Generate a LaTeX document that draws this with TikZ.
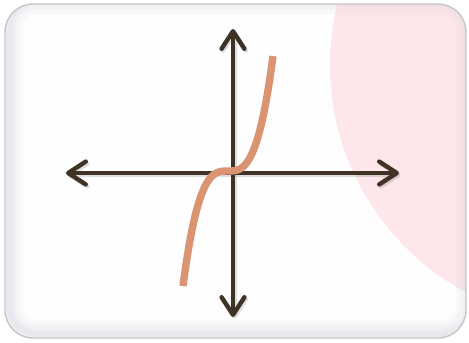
\documentclass[tikz,border=0pt]{standalone}
\usetikzlibrary{arrows.meta}

\definecolor{axisbrown}{HTML}{3E3324}
\definecolor{curvetan}{HTML}{DA9472}
\definecolor{blush}{HTML}{FDE7EA}
\definecolor{framegray}{HTML}{C4C3D0}
\definecolor{paper}{HTML}{FEFEFF}

\begin{document}
\begin{tikzpicture}[
  x=0.02cm,
  y=-0.02cm,
  axis/.style={draw=axisbrown,line width=2.5pt,
    {Straight Barb[length=10pt,width=13pt,round]}-{Straight Barb[length=10pt,width=13pt,round]}},
  axisshadow/.style={axis,draw=black,opacity=0.12},
  curve/.style={draw=curvetan,line width=4.2pt},
  frame/.style={rounded corners=0.56cm}
]

\useasboundingbox (0,0) rectangle (469,342);

% Card with blush circle and inner shadow
\fill[frame,paper] (5,4) rectangle (466,338);
\begin{scope}
  \clip[frame] (5,4) rectangle (466,338);
  \fill[blush] (588,65) circle [radius=258];
  \foreach \w/\o in {28/0.07,20/0.08,12/0.1,6/0.14}
    \draw[frame,framegray,line width=\w*0.02cm,opacity=\o,shift={(4,-4)}]
      (5,4) rectangle (466,338);
\end{scope}
\draw[frame,draw=gray!45,line width=0.8pt] (5,4) rectangle (466,338);

% Axes
\coordinate (xmin) at (66,173);
\coordinate (xmax) at (399,173);
\coordinate (ymax) at (233,29);
\coordinate (ymin) at (233,317);

\begin{scope}[shift={(1.5,2)}]
  \draw[axisshadow] (66,173) -- (399,173);
  \draw[axisshadow] (233,29) -- (233,317);
\end{scope}
\draw[axis] (xmin) -- (xmax);
\draw[axis] (ymin) -- (ymax);

% Cubic curve
\draw[curve,domain=-1:1,samples=80,smooth]
  plot ({228+45*\x},{171-115*\x*\x*\x});

\end{tikzpicture}
\end{document}
